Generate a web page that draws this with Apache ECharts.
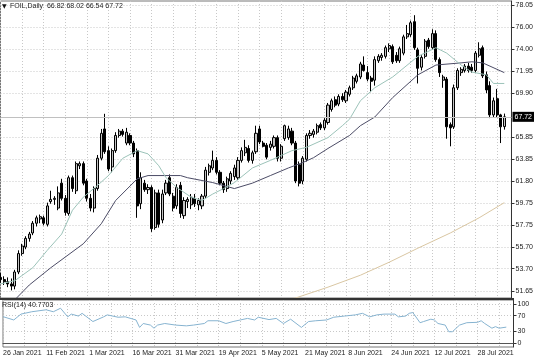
<!DOCTYPE html>
<html><head><meta charset="utf-8">
<script src="https://cdn.jsdelivr.net/npm/echarts@6/dist/echarts.min.js"></script>
<style>html,body{margin:0;padding:0;background:#fff}#c{width:536px;height:362px}</style>
</head><body><div id="c"></div>
<script>
const xTickLabels = ['26 Jan 2021','11 Feb 2021','1 Mar 2021','16 Mar 2021','31 Mar 2021','19 Apr 2021','5 May 2021','21 May 2021','8 Jun 2021','24 Jun 2021','12 Jul 2021','28 Jul 2021'];
const yTickLabels = ['51.65','53.70','55.70','57.75','59.75','61.80','63.85','65.85','69.90','71.95','74.00','76.00','78.05'];
const rsiTickLabels = ['0','30','70','100'];

const opens = [52.9,52.7,52.5,52.3,52.1,53.4,55.1,55.7,56.5,57.0,57.9,58.3,58.4,57.8,59.9,60.1,59.3,61.6,60.2,58.8,
62.1,60.9,63.2,63.4,61.8,60.2,59.3,61.1,63.9,66.6,64.6,63.1,64.6,66.0,66.4,65.3,66.0,65.3,64.6,59.7,
61.6,61.0,61.2,57.5,60.7,58.2,60.7,62.1,60.4,59.5,61.4,58.6,59.9,59.6,60.2,59.6,59.5,60.4,62.6,63.0,
63.7,62.6,61.6,61.1,61.8,62.2,62.1,63.7,64.4,64.8,63.7,64.5,66.6,65.3,65.1,64.9,65.0,65.8,63.9,65.7,
65.8,66.4,65.3,63.3,61.8,63.8,66.0,66.1,66.3,67.0,66.7,67.2,68.4,69.3,68.9,69.6,69.2,69.8,70.4,71.0,
71.4,72.5,71.8,71.3,71.1,72.9,73.2,73.3,74.0,74.2,73.4,72.9,73.6,75.1,75.3,76.5,73.9,72.3,73.3,74.8,
74.1,75.4,73.0,71.1,71.2,67.0,66.8,70.4,71.8,72.0,72.4,72.3,72.0,73.4,74.1,71.6,70.6,67.9,69.4,67.9,66.82];
const highs = [53.3,53.0,52.9,52.8,53.6,55.4,56.0,56.7,57.1,58.1,58.6,58.7,58.6,59.8,60.9,60.4,61.3,62.0,60.5,62.3,
62.3,63.6,63.6,63.6,62.0,60.6,61.3,64.2,66.6,68.0,65.0,64.8,66.3,66.6,66.6,66.7,66.2,65.5,64.8,62.6,
61.9,61.5,61.4,61.0,61.0,61.0,61.9,62.4,60.7,61.5,61.7,60.3,60.3,60.6,60.6,60.2,60.6,63.1,63.4,64.6,
64.0,62.8,61.8,62.2,62.7,63.3,64.0,64.9,65.6,65.1,64.6,66.9,66.9,65.5,65.3,65.5,66.0,66.0,65.2,67.0,
66.9,66.7,65.5,63.6,64.1,66.2,66.5,66.6,67.1,67.2,67.6,69.0,69.4,69.6,69.8,69.9,70.2,70.6,71.5,71.7,
72.8,73.3,72.4,71.5,73.3,73.5,73.6,74.3,74.5,74.4,73.7,74.2,75.3,76.2,76.6,77.1,74.1,73.4,74.9,75.0,
75.8,75.7,73.2,71.6,71.4,67.2,70.7,72.2,72.3,72.6,72.7,72.6,73.8,74.6,74.3,71.9,71.0,69.5,70.3,68.0,68.02];
const lows = [52.4,52.2,52.0,51.7,51.8,53.2,54.9,55.5,56.2,56.8,57.6,57.9,57.7,57.6,59.7,59.6,59.1,60.0,58.6,58.6,
60.8,60.6,62.9,61.4,59.9,59.0,58.9,60.9,63.7,64.3,62.7,62.6,64.4,65.8,65.9,65.1,65.1,64.0,58.4,59.2,
60.8,60.6,57.1,57.3,57.5,57.9,60.5,60.4,59.0,59.2,58.4,58.3,59.3,59.2,59.4,59.1,59.2,60.2,62.3,62.8,
62.4,61.4,60.7,60.8,61.5,61.9,61.9,63.5,64.1,63.5,63.4,64.3,65.2,64.9,63.8,64.6,64.8,63.6,63.6,65.5,
65.6,65.1,61.6,61.3,61.5,63.6,65.7,65.8,66.1,66.5,66.5,67.0,68.2,68.6,68.7,69.1,69.0,69.6,70.2,70.8,
71.2,71.9,71.0,70.0,70.6,72.7,72.9,73.1,73.7,72.6,72.7,72.7,73.4,74.9,75.1,73.9,70.8,72.0,73.1,74.0,
73.9,72.8,71.4,70.4,65.7,65.0,66.6,70.2,71.5,71.8,71.8,71.8,71.8,73.2,71.3,69.9,67.6,67.7,67.7,65.3,66.54];
const closes = [52.7,52.5,52.3,52.1,53.4,55.1,55.8,56.5,56.9,57.9,58.4,58.5,57.9,59.5,60.1,60.2,60.7,60.2,58.9,62.1,
61.1,63.4,63.4,61.6,60.2,59.3,61.1,63.9,66.2,64.5,62.9,64.6,66.0,66.4,66.1,66.3,65.3,64.3,59.5,62.1,
61.0,61.2,57.4,60.7,57.8,60.6,61.6,60.6,59.3,61.2,58.8,60.0,60.1,60.3,59.7,60.0,60.4,62.8,63.2,63.7,
62.6,61.6,61.0,62.0,62.5,63.0,63.7,64.6,64.9,63.7,64.4,66.2,65.4,65.0,64.0,65.2,65.8,63.9,65.0,66.9,
66.6,65.3,61.8,61.6,63.9,66.0,66.2,66.4,66.9,66.7,67.4,68.8,69.2,68.8,69.6,69.3,70.0,70.4,71.3,71.5,
72.6,72.0,71.2,71.0,73.0,73.3,73.4,74.1,74.3,72.8,72.9,74.0,75.1,75.4,76.4,74.1,72.2,73.2,74.7,74.2,
75.4,73.0,71.8,71.4,66.8,66.7,70.4,72.0,72.1,72.4,72.0,72.0,73.6,74.0,71.5,70.2,67.9,69.2,67.9,66.8,67.72];

// moving averages: [bar index, value]
const maFast = [[0,52.3],[4,52.6],[9,53.8],[13,55.4],[17,56.9],[20,59.1],[23,60.3],[27,61.4],[30,62.3],[34,63.9],[38,64.6],[41,64.3],[44,63.2],[46,62.1],[49,61.2],[53,60.3],[56,60.0],[59,60.6],[62,61.1],[65,61.65],[70,63.0],[75,63.7],[81,64.6],[85,64.9],[91,65.8],[95,66.9],[97,67.5],[100,69.2],[104,70.4],[109,71.4],[116,73.3],[121,74.1],[124,73.6],[128,72.5],[131,71.85],[135,71.6],[137,70.8],[140,70.8]];
const maMid = [[3,50.5],[8,52.2],[14,53.8],[23,56.0],[28,57.85],[32,60.0],[38,62.0],[41,62.3],[50,62.3],[52,62.1],[59,61.65],[65,61.1],[70,61.6],[75,62.3],[80,63.0],[84,63.5],[87,63.95],[91,64.8],[97,66.0],[100,66.9],[104,67.7],[109,69.5],[116,71.6],[121,72.5],[128,72.7],[131,72.8],[134,72.7],[140,71.8]];
const maSlow = [[80,50.9],[82,51.0],[91,52.0],[100,53.1],[108,54.3],[116,55.6],[125,57.0],[133,58.4],[140,59.8]];
const rsi = [[0,67.5],[3,59],[5,74],[8,80],[12,85],[14,80],[16,89],[18,67],[19,74],[21,69],[22,76],[25,55],[28,67],[29,72],[32,66],[34,67],[37,59],[38,40],[39,50],[41,46],[42,38],[43,46],[45,50],[48,46],[51,44],[53,46],[56,50],[57,57],[60,57],[62,50],[64,55],[66,59],[68,63],[70,59],[71,66],[74,60],[76,63],[78,50],[80,61],[83,40],[85,55],[87,57],[90,59],[92,66],[95,69],[98,72],[100,76],[102,67],[104,72],[106,74],[109,74],[110,67],[112,69],[113,76],[114,78],[116,52],[117,55],[119,61],[120,59],[121,50],[123,46],[124,29],[125,29],[127,46],[129,52],[132,53],[133,57],[134,50],[136,38],[137,42],[138,38],[140,40.77]];
const lastPrice = 67.72;

const N = 143;
const cats = Array.from({length: N}, (_, i) => (i % 12 === 0 && i / 12 < xTickLabels.length) ? xTickLabels[i / 12] : '');
const candle = opens.map((o, i) => [o, closes[i], lows[i], highs[i]]);
const yVals = yTickLabels.map(Number);
const rsiVals = rsiTickLabels.map(Number);
const FONT = 'Liberation Sans';
const gridDot = {color: '#c8c8c8', type: [1, 2], width: 1};

const chart = echarts.init(document.getElementById('c'));
chart.setOption({
  animation: false,
  textStyle: {fontFamily: FONT},
  grid: [
    {left: 0.5, top: 1, width: 513, height: 297, show: true, borderColor: '#777', borderWidth: 1},
    {left: 0.5, top: 300, width: 513, height: 47, show: true, borderColor: '#777', borderWidth: 1}
  ],
  xAxis: [
    {type: 'category', gridIndex: 0, data: cats, boundaryGap: false,
     axisLine: {show: false}, axisTick: {show: false}, axisLabel: {show: false},
     splitLine: {show: true, interval: (i) => i % 6 === 0, lineStyle: gridDot}},
    {type: 'category', gridIndex: 1, data: cats, boundaryGap: false,
     axisLine: {show: true, lineStyle: {color: '#555'}}, axisTick: {show: false},
     axisLabel: {show: true, interval: (i) => i % 12 === 0, align: 'left', fontSize: 7, color: '#222', margin: 3},
     splitLine: {show: true, interval: (i) => i % 6 === 0, lineStyle: gridDot}}
  ],
  yAxis: [
    {type: 'value', gridIndex: 0, position: 'right', min: 51.0, max: 78.41, scale: true,
     axisLine: {show: true, lineStyle: {color: '#333'}},
     axisTick: {show: true, length: 3, customValues: yVals, lineStyle: {color: '#333'}},
     axisLabel: {show: true, customValues: yVals, formatter: (v) => v.toFixed(2), fontSize: 7, color: '#222', margin: 4},
     splitLine: {show: true, lineStyle: gridDot}},
    {type: 'value', gridIndex: 1, position: 'right', min: -10, max: 110,
     axisLine: {show: true, lineStyle: {color: '#333'}},
     axisTick: {show: true, length: 3, customValues: rsiVals, lineStyle: {color: '#333'}},
     axisLabel: {show: true, customValues: rsiVals, fontSize: 7, color: '#222', margin: 4},
     splitLine: {show: true, lineStyle: gridDot}}
  ],
  graphic: [
    {type: 'rect', left: 0, top: 298, shape: {width: 514, height: 2}, style: {fill: '#333'}, z: 100},
    {type: 'text', left: 2, top: 3, style: {text: '\u25BC', fontSize: 6, fill: '#111', fontFamily: 'DejaVu Sans'}, z: 100},
    {type: 'text', left: 10, top: 3, style: {text: 'FOIL,Daily  66.82 68.02 66.54 67.72', fontSize: 7, fill: '#222', fontFamily: FONT}, z: 100},
    {type: 'text', left: 2, top: 302, style: {text: 'RSI(14) 40.7703', fontSize: 7, fill: '#222', fontFamily: FONT}, z: 100}
  ],
  series: [
    {type: 'candlestick', xAxisIndex: 0, yAxisIndex: 0, data: candle, barWidth: 2.6, z: 3,
     itemStyle: {color: '#c4c4c4', color0: '#000', borderColor: '#000', borderColor0: '#000', borderWidth: 1},
     markLine: {silent: true, symbol: ['none', 'none'], animation: false,
       data: [{yAxis: lastPrice}],
       lineStyle: {color: '#c0c0c0', type: 'solid', width: 1},
       label: {position: 'end', formatter: lastPrice.toFixed(2), backgroundColor: '#000', color: '#fff', fontSize: 7, padding: [2, 2, 1, 2], distance: 1, fontFamily: FONT}}},
    {type: 'line', xAxisIndex: 0, yAxisIndex: 0, data: maSlow, symbol: 'none', z: 4, lineStyle: {color: '#d9c6a2', width: 1}},
    {type: 'line', xAxisIndex: 0, yAxisIndex: 0, data: maMid, symbol: 'none', z: 4, lineStyle: {color: '#4c4c66', width: 1}},
    {type: 'line', xAxisIndex: 0, yAxisIndex: 0, data: maFast, symbol: 'none', z: 4, lineStyle: {color: '#9cc3b9', width: 1}},
    {type: 'line', xAxisIndex: 1, yAxisIndex: 1, data: rsi, symbol: 'none', z: 4, lineStyle: {color: '#86b3d0', width: 1}}
  ]
});
</script></body></html>
